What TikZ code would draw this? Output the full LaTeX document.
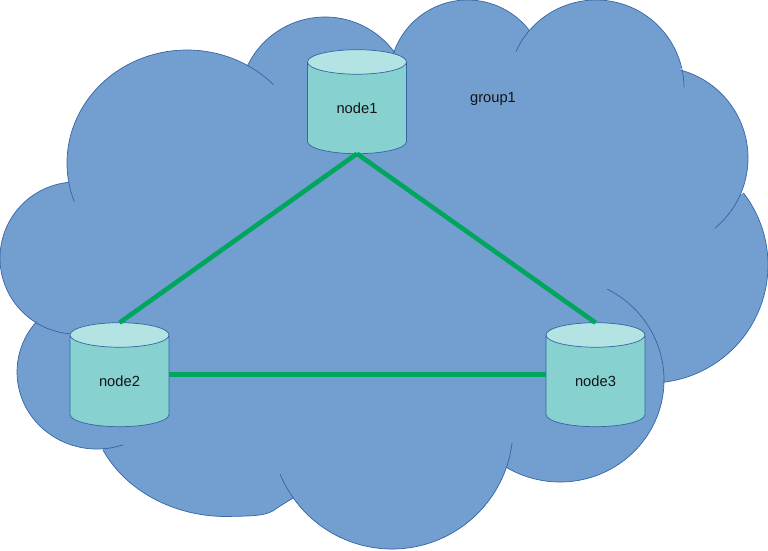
\documentclass[tikz,border=0pt]{standalone}
\usepackage{fontspec}
\setmainfont{Liberation Sans}
\usetikzlibrary{shapes.geometric}
\definecolor{cloudfill}{RGB}{114,159,207}
\definecolor{edgeblue}{RGB}{52,101,164}
\definecolor{bodyteal}{RGB}{135,209,209}
\definecolor{capteal}{RGB}{180,227,227}
\definecolor{linkgreen}{RGB}{0,166,93}
\definecolor{labelink}{RGB}{20,20,20}
% One elliptical lobe of the cloud: centre x, centre y, radii, start and end angle
\newcommand{\lobe}[6]{([shift={(#1,#2)}]#5:#3 and #4) arc[start angle=#5,end angle=#6,x radius=#3,y radius=#4]}
\tikzset{
  cloudedge/.style={draw=edgeblue,line width=0.7pt,line cap=round},
  dbnode/.style={shape=cylinder,shape border rotate=90,aspect=0.6,
    minimum width=99pt,minimum height=104pt,inner sep=0pt,outer sep=0pt,
    draw=edgeblue,line width=0.7pt,cylinder uses custom fill,
    cylinder body fill=bodyteal,cylinder end fill=capteal,
    font=\fontsize{14.7}{16}\selectfont,text=labelink},
  link/.style={draw=linkgreen,line width=4.6pt},
  plainlabel/.style={inner sep=0pt,font=\fontsize{14.7}{16}\selectfont,text=labelink}
}
\begin{document}
\begin{tikzpicture}[x=1pt,y=-1pt]
\useasboundingbox (0,0) rectangle (768,550);
% Filled body of the cloud, clockwise from the left
\fill[cloudfill] \lobe{76}{258}{76}{76}{121}{264}
  -- \lobe{187}{163}{120}{113}{170.4}{300.6}
  -- \lobe{325}{103}{86}{86}{206}{324}
  -- \lobe{467.5}{78}{78}{78}{198.8}{322}
  -- \lobe{596}{88}{88}{88}{220.9}{346.5}
  -- \lobe{657}{158}{91}{91}{284.6}{383.8}
  -- \lobe{650}{265}{118}{118}{322.4}{443.7}
  -- \lobe{560}{380}{104}{102}{361}{480.9}
  -- \lobe{392}{428}{121}{121}{18.7}{144.7}
  -- (277,508) .. controls (268,516) and (255,516) .. (225,516.5)
  .. controls (170,516) and (124,488) .. (103,450)
  -- \lobe{97}{372}{80}{77}{85.5}{220.9} -- cycle;
% Lobe outlines, with the short tails that run on inside the cloud
\draw[cloudedge] \lobe{76}{258}{76}{76}{95}{264};
\draw[cloudedge] \lobe{187}{163}{120}{113}{160.1}{316.1};
\draw[cloudedge] \lobe{325}{103}{86}{86}{206}{324};
\draw[cloudedge] \lobe{467.5}{78}{78}{78}{190}{322};
\draw[cloudedge] \lobe{596}{88}{88}{88}{204.5}{359.4};
\draw[cloudedge] \lobe{657}{158}{91}{91}{284.6}{410.3};
\draw[cloudedge] \lobe{650}{265}{118}{118}{322.4}{443.7};
\draw[cloudedge] \lobe{560}{380}{104}{102}{297}{480.9};
\draw[cloudedge] \lobe{392}{428}{121}{121}{7.1}{157.4};
\draw[cloudedge] (293,498) -- (277,508) .. controls (268,516) and (255,516) .. (225,516.5)
  .. controls (170,516) and (124,488) .. (103,450);
\draw[cloudedge] \lobe{97}{372}{80}{77}{71.1}{220.9};
% Databases
\node[dbnode] (node1) at (357,108) {node1};
\node[dbnode] (node2) at (119.5,381) {node2};
\node[dbnode] (node3) at (595.5,381) {node3};
\node[plainlabel] (group1) at (493,98.5) {group1};
% Links between the databases
\draw[link] (node1.bottom) -- (node2.top);
\draw[link] (node1.bottom) -- (node3.top);
\draw[link] ([yshift=6.5pt]node2.east) -- ([yshift=6.5pt]node3.west);
\end{tikzpicture}
\end{document}
